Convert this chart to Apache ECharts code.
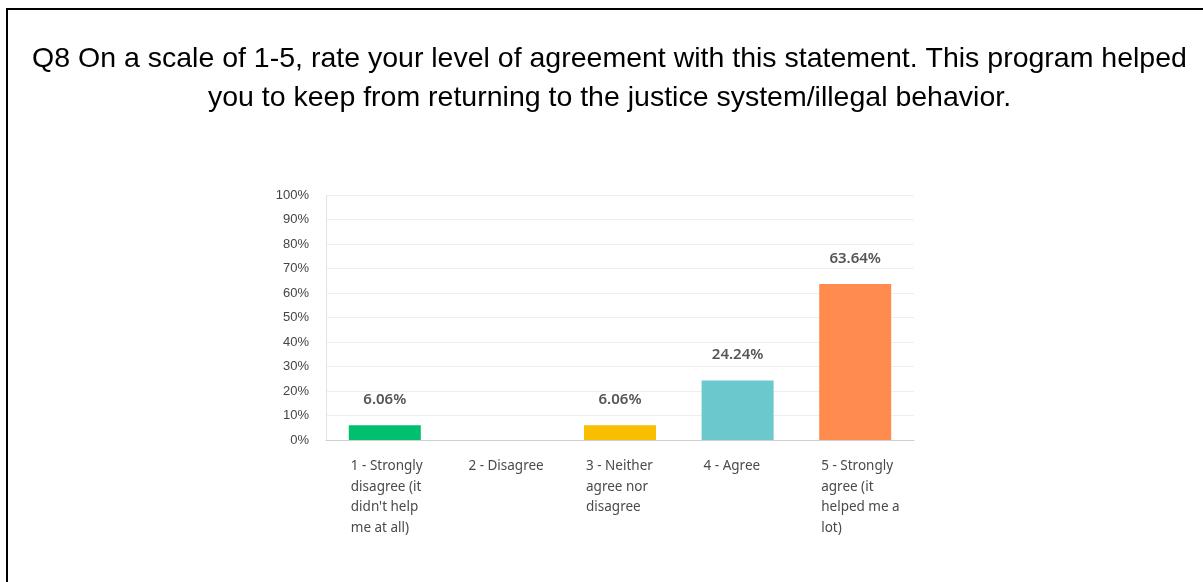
<!DOCTYPE html>
<html>
<head>
<meta charset="utf-8">
<script src="https://cdn.jsdelivr.net/npm/echarts@6/dist/echarts.min.js"></script>
<style>
  html, body { margin: 0; padding: 0; background: #fff; overflow: hidden; }
  #frame {
    position: absolute; left: 6px; top: 8px; width: 1205px; height: 584px;
    border-top: 2px solid #000; border-left: 2px solid #000; box-sizing: border-box;
  }
  #chart { position: absolute; left: 8px; top: 10px; width: 1203px; height: 582px; }
</style>
</head>
<body>
<div id="frame"></div>
<div id="chart"></div>
<script>
// Survey answers for Q8 and the share of respondents for each
const categories = [
  '1 - Strongly disagree (it didn\'t help me at all)',
  '2 - Disagree',
  '3 - Neither agree nor disagree',
  '4 - Agree',
  '5 - Strongly agree (it helped me a lot)'
];
// Tick labels as they wrap under each bar
const tickLines = [
  ['1 - Strongly', 'disagree (it', 'didn\'t help', 'me at all)'],
  ['2 - Disagree'],
  ['3 - Neither', 'agree nor', 'disagree'],
  ['4 - Agree'],
  ['5 - Strongly', 'agree (it', 'helped me a', 'lot)']
];
const percentages = [6.06, 0, 6.06, 24.24, 63.64];
const barColors = ['#00BF6F', '#A7A8AA', '#F9BE00', '#6BC8CD', '#FF8B4F'];
const titleText = 'Q8 On a scale of 1-5, rate your level of agreement with this statement. This program helped\nyou to keep from returning to the justice system/illegal behavior.';

const chart = echarts.init(document.getElementById('chart'), null, { renderer: 'canvas' });

chart.setOption({
  backgroundColor: 'transparent',
  animation: false,
  title: {
    text: titleText,
    left: 'center',
    top: 25,
    textStyle: {
      fontFamily: 'Liberation Sans, Arial, sans-serif',
      fontSize: 28.5,
      fontWeight: 'normal',
      color: '#000',
      lineHeight: 39
    }
  },
  grid: { left: 318, top: 185, width: 588, height: 245, containLabel: false },
  xAxis: {
    type: 'category',
    data: categories,
    axisLine: { lineStyle: { color: '#d0d0d0', width: 1 } },
    axisTick: { show: false },
    axisLabel: {
      interval: 0,
      margin: 16,
      formatter: function (value, idx) {
        return tickLines[idx].map(function (l) { return '{l|' + l + '}'; }).join('\n');
      },
      rich: {
        l: {
          width: 68,
          align: 'left',
          fontFamily: 'Noto Sans, sans-serif',
          fontSize: 13.5,
          lineHeight: 20.5,
          color: '#4a4a4a'
        }
      }
    }
  },
  yAxis: {
    type: 'value',
    min: 0,
    max: 100,
    interval: 10,
    axisLine: { show: true, lineStyle: { color: '#e3e3e3' } },
    axisTick: { show: false },
    splitLine: { lineStyle: { color: '#eeeeee' } },
    axisLabel: {
      formatter: '{value}%',
      margin: 17,
      fontFamily: 'Liberation Sans, Arial, sans-serif',
      fontSize: 13,
      color: '#444'
    }
  },
  series: [{
    type: 'bar',
    data: percentages.map(function (v, i) {
      return {
        value: v,
        itemStyle: { color: barColors[i] },
        label: { show: v > 0 }
      };
    }),
    barWidth: 72,
    label: {
      show: true,
      position: 'top',
      distance: 18,
      formatter: function (p) { return p.value.toFixed(2) + '%'; },
      fontFamily: 'Noto Sans, sans-serif',
      fontSize: 15,
      fontWeight: 600,
      color: '#555'
    }
  }]
});
</script>
</body>
</html>
